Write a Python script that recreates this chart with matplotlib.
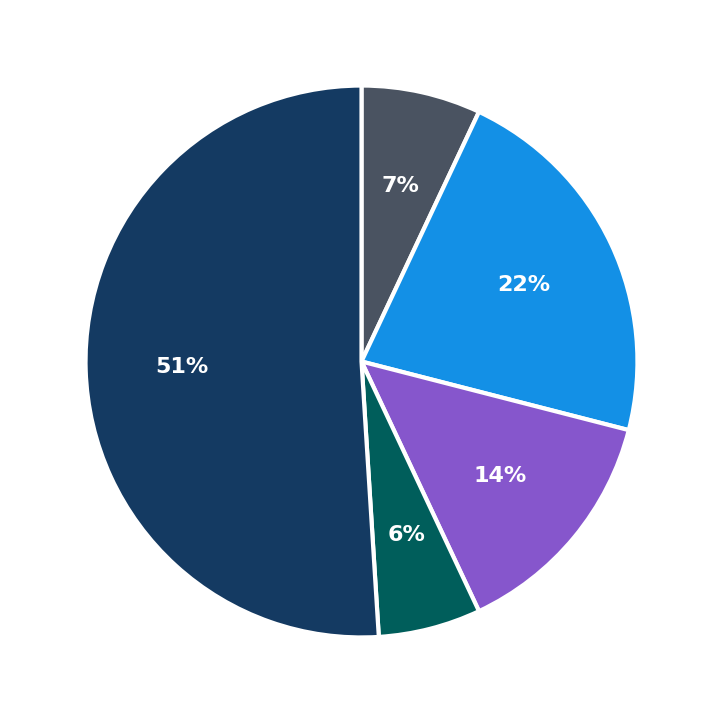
import matplotlib.pyplot as plt

labels = ["A", "B", "C", "D", "E"]
values = [7, 22, 14, 6, 51]
colors = ["#4a5361", "#1390e6", "#8656cc", "#005e5b", "#143a62"]

fig = plt.figure(figsize=(7.23, 7.23), dpi=100)
ax = fig.add_axes([0, 0, 1, 1])
wedges, texts, autotexts = ax.pie(
    values, colors=colors, startangle=90, counterclock=False,
    autopct="%.0f%%", pctdistance=0.65,
    wedgeprops=dict(edgecolor="white", linewidth=3),
)
for t in autotexts:
    t.set_color("white")
    t.set_fontsize(16)
    t.set_fontweight("bold")
ax.set_xlim(-1.31, 1.31)
ax.set_ylim(-1.31, 1.31)
ax.set_aspect("equal")
ax.axis("off")
fig.savefig("out.png", dpi=100)
